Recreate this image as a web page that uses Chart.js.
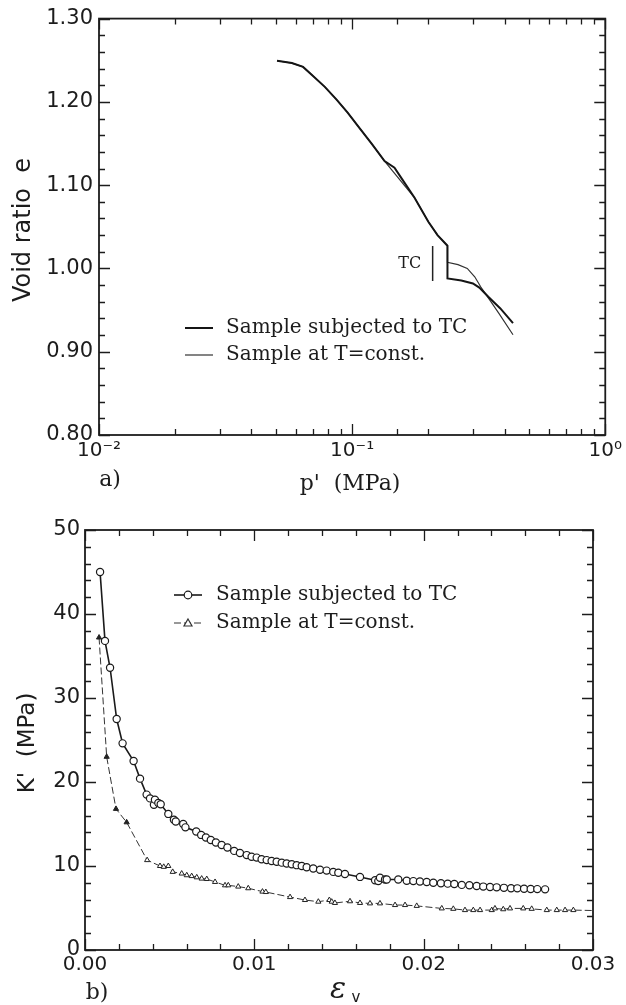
<!DOCTYPE html>
<html>
<head>
<meta charset="utf-8">
<script src="https://cdn.jsdelivr.net/npm/chart.js@4.4.1/dist/chart.umd.min.js"></script>
<style>
  body { margin: 0; background: #fff; }
  #wrap { position: relative; width: 626px; height: 1005px; }
  canvas { position: absolute; left: 0; }
  #chartA { top: 0; }
  #chartB { top: 500px; }
</style>
</head>
<body>
<div id="wrap">
  <canvas id="chartA" width="626" height="500"></canvas>
  <canvas id="chartB" width="626" height="505"></canvas>
</div>
<script>
///////////////////////////////////////
//////// a) void ratio vs p' //////////
///////////////////////////////////////

// sample subjected to TC (jump at p' = 0.238)
const pTC = [0.0505, 0.0578, 0.0640, 0.0692, 0.0780, 0.0868, 0.0960, 0.1055, 0.1200, 0.1343,
             0.1470, 0.1561, 0.1762, 0.2000, 0.2174, 0.2380, 0.2380, 0.2700, 0.3000, 0.3180,
             0.3450, 0.3850, 0.4320];
const eTC = [1.2494, 1.2466, 1.2420, 1.2327, 1.2180, 1.2027, 1.1870, 1.1708, 1.1490, 1.1289,
             1.1209, 1.1090, 1.0851, 1.0560, 1.0400, 1.0273, 0.9880, 0.9855, 0.9820, 0.9770,
             0.9660, 0.9520, 0.9344];

// sample at T=const.
const pConst = [0.0505, 0.0578, 0.0640, 0.0692, 0.0780, 0.0868, 0.0960, 0.1055, 0.1200, 0.1343,
                0.1762, 0.2000, 0.2174, 0.2380, 0.2380, 0.2620, 0.2850, 0.3050, 0.3220, 0.3500,
                0.3800, 0.4320];
const eConst = [1.2494, 1.2466, 1.2420, 1.2327, 1.2180, 1.2027, 1.1870, 1.1708, 1.1490, 1.1289,
                1.0851, 1.0560, 1.0400, 1.0273, 1.0073, 1.0045, 1.0000, 0.9900, 0.9780, 0.9620,
                0.9460, 0.9204];

// TC bracket
const tcMarkP = [0.208, 0.208];
const tcMarkE = [1.027, 0.985];

///////////////////////////////////////
//////// b) K' vs eps_v ///////////////
///////////////////////////////////////

const epsTC = [0.00089, 0.00118, 0.00148, 0.00187, 0.00222, 0.00287, 0.00325, 0.00364, 0.00384, 0.00407,
               0.00413, 0.00433, 0.00447, 0.00492, 0.00525, 0.00536, 0.00580, 0.00593, 0.00657, 0.00686,
               0.00714, 0.00743, 0.00773, 0.00807, 0.00841, 0.00881, 0.00915, 0.00955, 0.00984, 0.01014,
               0.01043, 0.01073, 0.01102, 0.01132, 0.01162, 0.01191, 0.01221, 0.01250, 0.01280, 0.01309,
               0.01348, 0.01388, 0.01427, 0.01466, 0.01496, 0.01535, 0.01624, 0.01713, 0.01732, 0.01742,
               0.01772, 0.01782, 0.01850, 0.01900, 0.01939, 0.01978, 0.02018, 0.02057, 0.02102, 0.02142,
               0.02181, 0.02225, 0.02270, 0.02313, 0.02352, 0.02392, 0.02431, 0.02474, 0.02516, 0.02553,
               0.02593, 0.02632, 0.02671, 0.02717];
const kTC = [45.0, 36.8, 33.6, 27.5, 24.6, 22.5, 20.4, 18.5, 18.05, 17.3,
             17.9, 17.5, 17.35, 16.2, 15.5, 15.3, 15.0, 14.6, 14.1, 13.7,
             13.4, 13.1, 12.8, 12.5, 12.2, 11.8, 11.55, 11.3, 11.1, 11.0,
             10.8, 10.7, 10.6, 10.5, 10.4, 10.3, 10.2, 10.1, 10.0, 9.85,
             9.7, 9.55, 9.45, 9.3, 9.2, 9.05, 8.7, 8.3, 8.2, 8.6,
             8.4, 8.4, 8.4, 8.25, 8.2, 8.15, 8.1, 8.0, 7.95, 7.9,
             7.85, 7.75, 7.7, 7.62, 7.55, 7.5, 7.46, 7.4, 7.35, 7.34,
             7.3, 7.26, 7.25, 7.22];

const epsConst = [0.00083, 0.00128, 0.00183, 0.00246, 0.00367, 0.00443, 0.00465, 0.00492, 0.00518, 0.00571,
                  0.00601, 0.00630, 0.00660, 0.00689, 0.00719, 0.00768, 0.00827, 0.00846, 0.00905, 0.00964,
                  0.01048, 0.01068, 0.01211, 0.01299, 0.01378, 0.01443, 0.01457, 0.01476, 0.01565, 0.01624,
                  0.01683, 0.01742, 0.01831, 0.01890, 0.01959, 0.02107, 0.02175, 0.02244, 0.02293, 0.02333,
                  0.02402, 0.02421, 0.02470, 0.02510, 0.02588, 0.02638, 0.02727, 0.02786, 0.02835, 0.02884,
                  0.03000];
const kConst = [37.2, 23.0, 16.8, 15.2, 10.7, 10.0, 9.9, 10.0, 9.3, 9.1,
                8.9, 8.8, 8.65, 8.5, 8.45, 8.1, 7.7, 7.7, 7.55, 7.35,
                6.95, 6.9, 6.3, 5.95, 5.75, 5.95, 5.75, 5.6, 5.8, 5.6,
                5.55, 5.55, 5.35, 5.35, 5.25, 4.95, 4.9, 4.75, 4.75, 4.75,
                4.75, 4.95, 4.85, 4.95, 4.95, 4.9, 4.75, 4.75, 4.75, 4.75,
                4.7];

const INK = '#1c1c1c';
Chart.defaults.font.family = 'DejaVu Sans';
Chart.defaults.color = INK;
Chart.defaults.animation = false;

const toPoints = (xs, ys) => xs.map((v, i) => ({ x: v, y: ys[i] }));
const isMultiple = (v, step) => Math.abs(v / step - Math.round(v / step)) < 1e-6;
const SUP = { '-': '\u207b', '0': '\u2070', '1': '\u00b9', '2': '\u00b2' };
const powerLabel = n => '10' + String(n).split('').map(c => SUP[c]).join('');

// frame + inward ticks on all four sides, majors are the labelled ticks
const boxTicks = {
    id: 'boxTicks',
    afterDatasetsDraw(chart) {
        const { ctx, chartArea: a, scales: { x, y } } = chart;
        ctx.save();
        ctx.strokeStyle = INK;
        ctx.lineWidth = 1.3;
        ctx.beginPath();
        x.ticks.forEach(t => {
            const px = Math.round(x.getPixelForValue(t.value)) + 0.5;
            const len = t.label !== '' ? 11 : 6;
            ctx.moveTo(px, a.bottom); ctx.lineTo(px, a.bottom - len);
            ctx.moveTo(px, a.top); ctx.lineTo(px, a.top + len);
        });
        y.ticks.forEach(t => {
            const py = Math.round(y.getPixelForValue(t.value)) + 0.5;
            const len = t.label !== '' ? 11 : 6;
            ctx.moveTo(a.left, py); ctx.lineTo(a.left + len, py);
            ctx.moveTo(a.right, py); ctx.lineTo(a.right - len, py);
        });
        ctx.stroke();
        ctx.lineWidth = 1.8;
        ctx.strokeRect(a.left, a.top, a.right - a.left, a.bottom - a.top);
        ctx.restore();
    }
};

function text(ctx, str, x, y, font, align, rot) {
    ctx.save();
    ctx.translate(x, y);
    if (rot) ctx.rotate(rot);
    ctx.font = font;
    ctx.fillStyle = INK;
    ctx.textAlign = align || 'center';
    ctx.textBaseline = 'middle';
    ctx.fillText(str, 0, 0);
    ctx.restore();
}

const labelsA = {
    id: 'labelsA',
    afterDraw(chart) {
        const { ctx, scales: { x, y } } = chart;
        text(ctx, 'Void ratio  e', 24, 230, '24px "DejaVu Sans"', 'center', -Math.PI / 2);
        text(ctx, "p'  (MPa)", 350, 484, '22px "DejaVu Serif"');
        text(ctx, 'a)', 110, 480, '22px "DejaVu Serif"');
        text(ctx, 'TC', x.getPixelForValue(0.169), y.getPixelForValue(1.005), '16px "DejaVu Serif"');
        // legend
        const ds = chart.data.datasets;
        [[ds[0], 328], [ds[1], 355]].forEach(([d, ly]) => {
            ctx.save();
            ctx.strokeStyle = d.borderColor;
            ctx.lineWidth = d.borderWidth;
            ctx.beginPath();
            ctx.moveTo(185, ly); ctx.lineTo(213, ly);
            ctx.stroke();
            ctx.restore();
            text(ctx, d.label, 226, ly, '20px "DejaVu Serif"', 'left');
        });
    }
};

const labelsB = {
    id: 'labelsB',
    afterDraw(chart) {
        const { ctx } = chart;
        text(ctx, "K'  (MPa)", 28, 243, '23px "DejaVu Sans"', 'center', -Math.PI / 2);
        text(ctx, '\u03b5', 338, 490, 'italic 30px "DejaVu Serif"');
        text(ctx, 'v', 356, 498, '15px "DejaVu Sans"');
        text(ctx, 'b)', 97, 493, '22px "DejaVu Serif"');
        // legend with markers
        const ds = chart.data.datasets;
        [[ds[0], 95], [ds[1], 123]].forEach(([d, ly]) => {
            ctx.save();
            ctx.strokeStyle = d.borderColor;
            ctx.lineWidth = d.borderWidth;
            ctx.setLineDash(d.borderDash || []);
            ctx.beginPath();
            ctx.moveTo(174, ly); ctx.lineTo(202, ly);
            ctx.stroke();
            ctx.setLineDash([]);
            ctx.fillStyle = '#fff';
            ctx.lineWidth = 1.2;
            ctx.beginPath();
            if (d.pointStyle === 'triangle') {
                ctx.moveTo(188, ly - 4); ctx.lineTo(192, ly + 3); ctx.lineTo(184, ly + 3); ctx.closePath();
            } else {
                ctx.arc(188, ly, 3.8, 0, Math.PI * 2);
            }
            ctx.fill(); ctx.stroke();
            ctx.restore();
            text(ctx, d.label, 216, ly, '20px "DejaVu Serif"', 'left');
        });
    }
};

///////////////////////////////////////
//////////// chart a) /////////////////
///////////////////////////////////////

new Chart(document.getElementById('chartA'), {
    type: 'scatter',
    data: {
        datasets: [
            {
                label: 'Sample subjected to TC',
                data: toPoints(pTC, eTC),
                showLine: true,
                borderColor: '#151515',
                borderWidth: 2,
                pointRadius: 0,
            },
            {
                label: 'Sample at T=const.',
                data: toPoints(pConst, eConst),
                showLine: true,
                borderColor: '#333',
                borderWidth: 1.2,
                pointRadius: 0,
            },
            {
                label: 'TC',
                data: toPoints(tcMarkP, tcMarkE),
                showLine: true,
                borderColor: '#222',
                borderWidth: 1.5,
                pointRadius: 0,
            }
        ]
    },
    options: {
        responsive: false,
        devicePixelRatio: 1,
        layout: { padding: { left: 0, right: 17, top: 17, bottom: 0 } },
        plugins: { legend: { display: false }, tooltip: { enabled: false } },
        scales: {
            x: {
                type: 'logarithmic',
                min: 0.01,
                max: 1,
                grid: { display: false, drawTicks: false },
                border: { display: false },
                ticks: {
                    autoSkip: false,
                    maxRotation: 0,
                    padding: 4,
                    font: { size: 20 },
                    callback: v => {
                        const l = Math.log10(v);
                        return Math.abs(l - Math.round(l)) < 1e-9 ? powerLabel(Math.round(l)) : '';
                    }
                },
                afterFit: s => { s.height = 65; }
            },
            y: {
                min: 0.8,
                max: 1.3,
                grid: { display: false, drawTicks: false },
                border: { display: false },
                ticks: {
                    stepSize: 0.02,
                    autoSkip: false,
                    padding: 6,
                    font: { size: 21 },
                    callback: v => isMultiple(v, 0.1) ? v.toFixed(2) : ''
                },
                afterFit: s => { s.width = 99; }
            }
        }
    },
    plugins: [boxTicks, labelsA]
});

///////////////////////////////////////
//////////// chart b) /////////////////
///////////////////////////////////////

new Chart(document.getElementById('chartB'), {
    type: 'scatter',
    data: {
        datasets: [
            {
                label: 'Sample subjected to TC',
                data: toPoints(epsTC, kTC),
                showLine: true,
                borderColor: '#1a1a1a',
                borderWidth: 1.6,
                pointStyle: 'circle',
                pointRadius: 3.6,
                pointBorderWidth: 1.2,
                pointBorderColor: '#1a1a1a',
                pointBackgroundColor: '#fff',
            },
            {
                label: 'Sample at T=const.',
                data: toPoints(epsConst, kConst),
                showLine: true,
                borderColor: '#333',
                borderWidth: 1,
                borderDash: [7, 3],
                pointStyle: 'triangle',
                pointRadius: ctx => ctx.dataIndex === epsConst.length - 1 ? 0 : 3,
                pointBorderWidth: 1,
                pointBorderColor: '#222',
                pointBackgroundColor: ctx => ctx.dataIndex < 4 ? '#222' : '#fff',
            }
        ]
    },
    options: {
        responsive: false,
        devicePixelRatio: 1,
        layout: { padding: { left: 0, right: 33, top: 30, bottom: 0 } },
        plugins: { legend: { display: false }, tooltip: { enabled: false } },
        scales: {
            x: {
                min: 0,
                max: 0.03,
                grid: { display: false, drawTicks: false },
                border: { display: false },
                ticks: {
                    stepSize: 0.002,
                    autoSkip: false,
                    maxRotation: 0,
                    padding: 3,
                    font: { size: 20 },
                    callback: v => isMultiple(v, 0.01) ? v.toFixed(2) : ''
                },
                afterFit: s => { s.height = 55; }
            },
            y: {
                min: 0,
                max: 50,
                grid: { display: false, drawTicks: false },
                border: { display: false },
                ticks: {
                    stepSize: 2,
                    autoSkip: false,
                    padding: 5,
                    font: { size: 21 },
                    callback: v => isMultiple(v, 10) ? String(v) : ''
                },
                afterFit: s => { s.width = 85; }
            }
        }
    },
    plugins: [boxTicks, labelsB]
});
</script>
</body>
</html>
